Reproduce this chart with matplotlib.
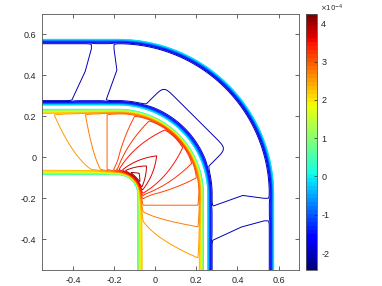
import numpy as np
import matplotlib
matplotlib.use("Agg")
import matplotlib.pyplot as plt
from matplotlib.colors import Normalize
from matplotlib.cm import ScalarMappable

plt.rcParams["font.family"] = ["Liberation Sans", "DejaVu Sans"]
plt.rcParams["axes.unicode_minus"] = False

# colour limits and contour levels (units of 1e-4)
clim = [-2.44, 4.24]
levels = [-2.3, -2.1, -1.9, -1.7, -1.5, -1.3, -1.1, -0.9, -0.7, -0.5, -0.3, -0.1,
          0.1, 0.3, 0.5, 0.7, 0.9, 1.1, 1.3, 1.5, 1.7, 1.9, 2.1, 2.3,
          2.5, 2.7, 2.9, 3.1, 3.3, 3.5, 3.7, 3.9, 4.1]
ticks = [-0.4, -0.2, 0, 0.2, 0.4, 0.6]
cbar_ticks = [-2, -1, 0, 1, 2, 3, 4]

# bend geometry: common arc centre and wall radii
corner = -0.18
inner_walls = [0.095, 0.415]
outer_walls = [0.435, 0.757]
wall_width = 0.028

# inner channel: value against the fan angle seen from the inner-wall point
fan_angle = [0, 26.8, 35.6, 43, 55.5, 63.4, 71, 90, 109, 130, 180]
fan_value = [4.3, 4.1, 3.9, 3.7, 3.5, 3.3, 3.1, 2.9, 2.7, 2.5, 2.38]
fan_origin = 0.25

# outer channel values
outer_base = -2.2
outer_bump = 0.2
# bump outlines in the outer channel (diagonal frame / arm frame)
corner_bump = [0.53, 0.215]
line_a_t = [0.464, 0.6, 0.71]
line_a_s = [0.223, 0.16, 0.13]
line_b_t = [0.464, 0.606, 0.71]
line_b_s = [0.057, 0.006, 0.02]


def ramp(z):
    z = np.clip(z, 0, 1)
    return 1 - (1 - z) ** 2


def step(z):
    return 1 / (1 + np.exp(-z))


g = np.linspace(-0.55, 0.7, 800)
X, Y = np.meshgrid(g, g)
Xc = X - corner
Yc = Y - corner
rr = np.hypot(np.maximum(Xc, 0), np.maximum(Yc, 0))
theta = np.arctan2(Yc, Xc)
tp = np.minimum(np.abs(theta - np.pi / 4), np.pi / 4)
s = np.maximum(-Xc, 0) + np.maximum(-Yc, 0)
xi = 0.25 * tp + s

F = np.zeros_like(X)

# inner channel
ra, rb = inner_walls
W = rb - ra
d1 = np.minimum(rr - ra, rb - rr)
n = np.clip(rr - ra, 0, W)
n_eff = W * np.sqrt(n / W)
alpha = np.degrees(np.arctan2(n_eff, fan_origin - xi))
A = np.interp(alpha, fan_angle, fan_value)
F = np.where(d1 > 0, ramp(d1 / wall_width) * A, F)

# outer channel
ra, rb = outer_walls
d2 = np.minimum(rr - ra, rb - rr)
u = (Xc + Yc) / np.sqrt(2)
v = (Yc - Xc) / np.sqrt(2)
pc = step((corner_bump[0] - u) / 0.012) * step((corner_bump[1] - np.abs(v)) / 0.012)


def arm_bump(sa, ta, eps=0.007):
    sA = np.interp(ta, line_a_t, line_a_s)
    sB = np.interp(ta, line_b_t, line_b_s)
    return step((sa - sB) / eps) * step((sA - sa) / eps)


pt = np.maximum(pc, np.maximum(arm_bump(-Xc, Yc), arm_bump(-Yc, Xc)))
B = outer_base + outer_bump * pt
F = np.where(d2 > 0, ramp(d2 / wall_width) * B, F)

cmap = plt.get_cmap("jet", 64)
norm = Normalize(vmin=clim[0], vmax=clim[1])

fig = plt.figure(figsize=(3.82, 2.86), dpi=100)
ax = fig.add_axes([0.110, 0.056, 0.673, 0.895])
cax = fig.add_axes([0.801, 0.056, 0.029, 0.895])

ax.contour(X, Y, F, levels=levels, cmap=cmap, norm=norm, linewidths=0.7)
ax.set_xlim(-0.55, 0.7)
ax.set_ylim(-0.55, 0.7)
ax.set_xticks(ticks)
ax.set_yticks(ticks)
ax.set_xticklabels([f"{t:g}" for t in ticks])
ax.set_yticklabels([f"{t:g}" for t in ticks])
ax.tick_params(direction="in", top=True, right=True, length=3, width=0.5,
               labelsize=6.5, colors="#262626", pad=4)
for sp in ax.spines.values():
    sp.set_linewidth(0.6)
    sp.set_color("#555555")

cb = fig.colorbar(ScalarMappable(norm=norm, cmap=cmap), cax=cax)
cb.set_ticks(cbar_ticks)
cb.set_ticklabels([str(t) for t in cbar_ticks])
cax.tick_params(direction="in", length=2, width=0.5, labelsize=6.5,
                colors="#262626", pad=3)
cb.outline.set_linewidth(0.6)
cb.outline.set_edgecolor("#555555")
fig.text(0.838, 0.992, r"$\times 10^{-4}$", fontsize=5, color="#262626",
         ha="left", va="top")

fig.savefig("out.png", dpi=100)
